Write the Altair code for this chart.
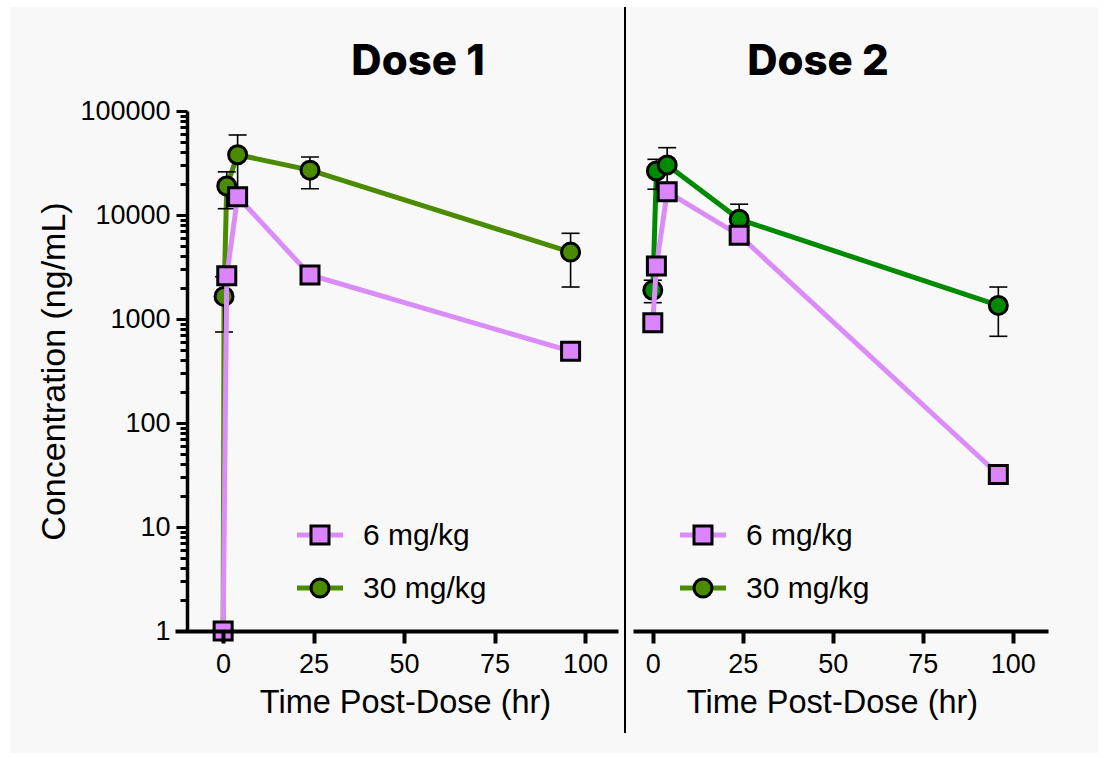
import altair as alt
import pandas as pd

# ---- Dose 1 ----
d1_low_t = [0, 1, 4, 24, 96]
d1_low_c = [1, 2600, 15000, 2650, 490]
d1_high_t = [0, 0.25, 1, 4, 24, 96]
d1_high_c = [1, 1650, 19000, 38000, 27000, 4400]
d1_high_lo = [None, 750, 11500, 18000, 17900, 2030]
d1_high_hi = [None, 2550, 26000, 58800, 36100, 6670]

# ---- Dose 2 ----
d2_low_t = [0, 1, 4, 24, 96]
d2_low_c = [920, 3230, 16700, 6400, 32]
d2_high_t = [0, 1, 4, 24, 96]
d2_high_c = [1890, 26500, 30300, 9100, 1350]
d2_high_lo = [1435, 17700, 17000, 6300, 682]
d2_high_hi = [2360, 34300, 44400, 12700, 2030]

groups = ["6 mg/kg", "30 mg/kg"]
panel_titles = ["Dose 1", "Dose 2"]
x_ticks = [0, 25, 50, 75, 100]
y_decades = [1, 10, 100, 1000, 10000, 100000]
y_ticks = [m * d for d in y_decades[:-1] for m in range(1, 10)] + [y_decades[-1]]

PINK_FILL = "#DA84FF"
PINK_LINE = "#DA8CF8"
OLIVE = "#4B8B00"
GREEN = "#008A00"
PANEL_BG = "#F8F8F8"
FONT = "Liberation Sans"
TITLE_FONT = "Inter"

decade_test = "indexof([1,10,100,1000,10000,100000], datum.value) >= 0"


def legend_layers(x0):
    layers = []
    specs = [(groups[0], "square", PINK_FILL, PINK_LINE), (groups[1], "circle", OLIVE, OLIVE)]
    for i, (name, shape, fill, line) in enumerate(specs):
        yy = 424 + 53 * i
        base = alt.Chart(pd.DataFrame({"label": [name]}))
        layers.append(base.mark_rule(color=line, strokeWidth=5).encode(
            x=alt.value(x0), x2=alt.value(x0 + 46), y=alt.value(yy)))
        layers.append(base.mark_point(shape=shape, filled=True, fill=fill, stroke="black",
                                      strokeWidth=3, size=324, opacity=1).encode(
            x=alt.value(x0 + 23), y=alt.value(yy)))
        layers.append(base.mark_text(align="left", baseline="middle", fontSize=30, font=FONT,
                                     color="black").encode(
            x=alt.value(x0 + 66), y=alt.value(yy + 1), text="label:N"))
    return layers


def panel(low_t, low_c, high_t, high_c, high_lo, high_hi, title, green, x_domain, width,
          show_y, title_x, legend_x0, axis_title_x, frame):
    low = pd.DataFrame({"t": low_t, "c": low_c})
    high = pd.DataFrame({"t": high_t, "c": high_c, "lo": high_lo, "hi": high_hi})
    err = high.dropna()

    # the backdrop lives in the first panel, so its axes are lifted above it
    z = 1 if frame else 0

    xs = alt.Scale(domain=x_domain, nice=False, zero=False)
    ys = alt.Scale(type="log", domain=[1, 100000], nice=False)
    xax = alt.Axis(values=x_ticks, title="Time Post-Dose (hr)", grid=False,
                   tickSize=12, tickWidth=4, tickColor="black", domainWidth=4,
                   domainColor="black", labelFontSize=27, labelFont=FONT, labelColor="black",
                   labelPadding=8, labelFlush=False, titleFont=FONT, titleFontSize=32.5,
                   titleFontWeight="normal", titleColor="black", titlePadding=9,
                   titleX=axis_title_x, zindex=z)
    if show_y:
        yax = alt.Axis(values=y_ticks, title="Concentration (ng/mL)", grid=False,
                       labelExpr=f"{decade_test} ? format(datum.value, 'd') : ''",
                       tickSize={"condition": {"test": decade_test, "value": 11}, "value": 7},
                       tickWidth=3, tickColor="black", domainWidth=3.5, domainColor="black",
                       labelFontSize=27, labelFont=FONT, labelColor="black", labelPadding=6,
                       labelOverlap=False, labelFlush=False, offset=-12,
                       titleFont=FONT, titleFontSize=34, titleFontWeight="normal",
                       titleColor="black", titlePadding=8, zindex=z)
    else:
        yax = None

    X = alt.X("t:Q", scale=xs, axis=xax)
    Y = alt.Y("c:Q", scale=ys, axis=yax)

    high_line = alt.Chart(high).mark_line(color=green, strokeWidth=5).encode(x=X, y=Y)
    bars = alt.Chart(err).mark_rule(color="black", strokeWidth=1.6).encode(
        x=X, y=alt.Y("lo:Q", scale=ys, axis=yax), y2="hi:Q")
    cap_lo = alt.Chart(err).mark_tick(orient="horizontal", color="black", size=18,
                                      thickness=1.6, opacity=1).encode(
        x=X, y=alt.Y("lo:Q", scale=ys, axis=yax))
    cap_hi = alt.Chart(err).mark_tick(orient="horizontal", color="black", size=18,
                                      thickness=1.6, opacity=1).encode(
        x=X, y=alt.Y("hi:Q", scale=ys, axis=yax))
    high_pts = alt.Chart(high).mark_point(shape="circle", filled=True, fill=green,
                                          stroke="black", strokeWidth=3, size=324,
                                          opacity=1).encode(x=X, y=Y)
    low_line = alt.Chart(low).mark_line(color=PINK_LINE, strokeWidth=5).encode(x=X, y=Y)
    low_pts = alt.Chart(low).mark_point(shape="square", filled=True, fill=PINK_FILL,
                                        stroke="black", strokeWidth=3, size=324,
                                        opacity=1).encode(x=X, y=Y)

    heading = alt.Chart(pd.DataFrame({"title": [title]})).mark_text(
        font=TITLE_FONT, fontSize=42, fontWeight=800, color="black",
        align="center", baseline="middle").encode(
        x=alt.value(title_x), y=alt.value(-49), text="title:N")

    layers = []
    if frame:
        # light backdrop behind both panels, with the divider between them
        layers.append(alt.Chart(pd.DataFrame({"k": [0]})).mark_rect(
            color=PANEL_BG, opacity=1).encode(
            x=alt.value(-165), x2=alt.value(923), y=alt.value(-104), y2=alt.value(642)))
    layers += [high_line, bars, cap_lo, cap_hi, high_pts, low_line, low_pts, heading]
    layers += legend_layers(legend_x0)
    if frame:
        layers.append(alt.Chart(pd.DataFrame({"k": [0]})).mark_rule(
            color="black", strokeWidth=2).encode(
            x=alt.value(width + 7), y=alt.value(-104), y2=alt.value(622)))
    return alt.layer(*layers).properties(width=width, height=520)


left = panel(d1_low_t, d1_low_c, d1_high_t, d1_high_c, d1_high_lo, d1_high_hi,
             panel_titles[0], OLIVE, [-13.3, 109.1], 443, True, 243, 122, 230, True)
right = panel(d2_low_t, d2_low_c, d2_high_t, d2_high_c, d2_high_lo, d2_high_hi,
              panel_titles[1], GREEN, [-5.5, 109.8], 415, False, 185, 47, 199, False)

chart = alt.hconcat(left, right, spacing=15, bounds="flush").properties(
    padding={"left": 10, "top": 6, "right": 10, "bottom": 6},
    background="white",
).configure_view(strokeWidth=0)

chart.save("out.html", embed_options={"renderer": "svg", "actions": False})
